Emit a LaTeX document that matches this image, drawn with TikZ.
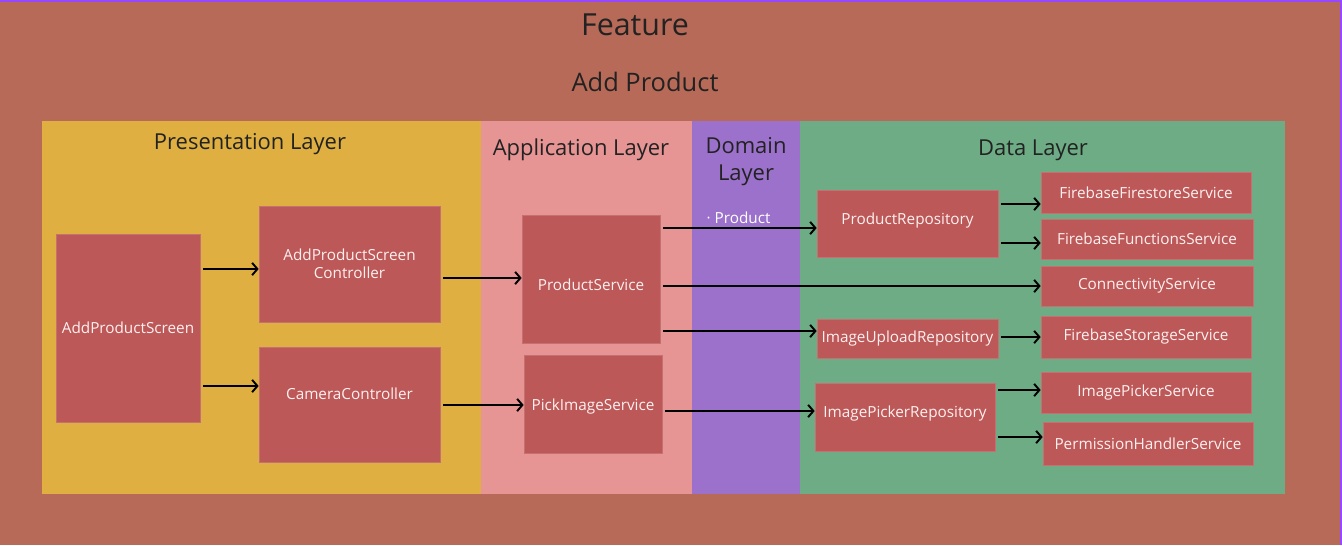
\documentclass[tikz,border=0pt]{standalone}
\usepackage{fontspec}
\setmainfont{Open Sans}
\usepackage{tikz}
\usetikzlibrary{arrows.meta, positioning, calc}

\definecolor{bgcol}{HTML}{B86A58}
\definecolor{framecol}{HTML}{9747FF}
\definecolor{prescol}{HTML}{DFB041}
\definecolor{appcol}{HTML}{E69494}
\definecolor{domcol}{HTML}{9B71CB}
\definecolor{datacol}{HTML}{6DAC85}
\definecolor{boxcol}{HTML}{BC5858}
\definecolor{titlecol}{HTML}{222222}

\begin{document}
\begin{tikzpicture}[x=0.02cm, y=-0.02cm,
    layer/.style={rectangle, inner sep=0pt, minimum height=7.46cm},
    box/.style={rectangle, fill=boxcol, draw=boxcol!85!white, line width=0.4pt, text=white!94!red, align=center, font=\fontsize{8.7}{10.5}\selectfont, inner sep=0pt},
    title/.style={text=titlecol, align=center, inner sep=0pt},
    flow/.style={-{Straight Barb[length=3pt, width=7pt]}, line width=1.1pt, black, shorten <=1.5pt}]
    % Frame
    \fill[bgcol] (0,0) rectangle (1342,545);
    \fill[framecol] (0,0) rectangle (1342,2);
    \fill[framecol] (1340,0) rectangle (1342,545);
    \useasboundingbox (0,0) rectangle (1342,545);
    \node[title, font=\fontsize{17.3}{20}\selectfont] (feature) at (635,25) {Feature};
    \node[title, font=\fontsize{14.5}{18}\selectfont] (addproduct) at (645,82) {Add Product};

    % Layers
    \node[layer, fill=prescol, minimum width=8.78cm] (pres) at (261.5,307.5) {};
    \node[layer, fill=appcol, minimum width=4.22cm] (app) at (586.5,307.5) {};
    \node[layer, fill=domcol, minimum width=2.16cm] (dom) at (746,307.5) {};
    \node[layer, fill=datacol, minimum width=9.70cm] (data) at (1042.5,307.5) {};
    \node[title, font=\fontsize{12.5}{15}\selectfont] (prestitle) at (250,144) {Presentation Layer};
    \node[title, font=\fontsize{12.5}{15}\selectfont] (apptitle) at (581,150) {Application Layer};
    \node[title, font=\fontsize{12.5}{15.4}\selectfont] (domtitle) at (746,162) {Domain\\Layer};
    \node[title, font=\fontsize{12.5}{15}\selectfont] (datatitle) at (1033,150) {Data Layer};

    % Presentation layer
    \node[box, minimum width=2.88cm, minimum height=3.76cm] (aps) at (128,328) {AddProductScreen};
    \node[box, minimum width=3.62cm, minimum height=2.32cm] (apsc) at (349.5,264) {AddProductScreen\\Controller};
    \node[box, minimum width=3.62cm, minimum height=2.30cm, text height=6.3pt, text depth=12pt] (camc) at (349.5,404.5) {CameraController};

    % Application layer
    \node[box, minimum width=2.76cm, minimum height=2.56cm, text height=15.3pt, text depth=1.8pt] (ps) at (591,279) {ProductService};
    \node[box, minimum width=2.76cm, minimum height=1.96cm, text height=9pt, text depth=1.8pt] (pis) at (593,404) {PickImageService};

    % Data layer
    \node[box, minimum width=3.62cm, minimum height=1.34cm, text height=6.3pt, text depth=5.2pt] (prepo) at (907.5,223.5) {ProductRepository};
    \node[box, minimum width=3.62cm, minimum height=0.78cm] (iurepo) at (907.5,338.5) {ImageUploadRepository};
    \node[box, minimum width=3.60cm, minimum height=1.36cm, text height=6.3pt, text depth=5.2pt] (iprepo) at (905,417) {ImagePickerRepository};
    \node[box, minimum width=4.20cm, minimum height=0.82cm] (ffs) at (1146,192.5) {FirebaseFirestoreService};
    \node[box, minimum width=4.24cm, minimum height=0.80cm] (ffns) at (1147,239) {FirebaseFunctionsService};
    \node[box, minimum width=4.24cm, minimum height=0.80cm] (conn) at (1147,286) {ConnectivityService};
    \node[box, minimum width=4.20cm, minimum height=0.84cm] (fss) at (1146,337) {FirebaseStorageService};
    \node[box, minimum width=4.20cm, minimum height=0.82cm] (ips) at (1146,392.5) {ImagePickerService};
    \node[box, minimum width=4.20cm, minimum height=0.86cm] (phs) at (1148,443.5) {PermissionHandlerService};

    % Connections
    \draw[flow] (aps.east |- 0,269) -- (apsc.west |- 0,269);
    \draw[flow] (aps.east |- 0,386) -- (camc.west |- 0,386);
    \draw[flow] (apsc.east |- 0,278) -- (ps.west |- 0,278);
    \draw[flow] (camc.east |- 0,405) -- (pis.west |- 0,405);
    \draw[flow] (ps.east |- 0,228) -- node[above=2pt, text=white, font=\fontsize{8.7}{10}\selectfont, inner sep=0pt] (entity) {· Product} (prepo.west |- 0,228);
    \draw[flow] (ps.east |- 0,286) -- (conn.west |- 0,286);
    \draw[flow] (ps.east |- 0,331) -- (iurepo.west |- 0,331);
    \draw[flow] (pis.east |- 0,411) -- (iprepo.west |- 0,411);
    \draw[flow] (prepo.east |- 0,204) -- (ffs.west |- 0,204);
    \draw[flow] (prepo.east |- 0,243) -- (ffns.west |- 0,243);
    \draw[flow] (iurepo.east |- 0,337) -- (fss.west |- 0,337);
    \draw[flow] (iprepo.east |- 0,390) -- (ips.west |- 0,390);
    \draw[flow] (iprepo.east |- 0,437) -- (phs.west |- 0,437);
\end{tikzpicture}
\end{document}
